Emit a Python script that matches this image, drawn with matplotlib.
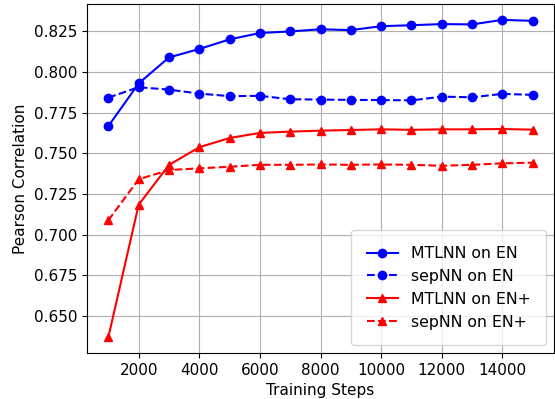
import matplotlib
matplotlib.use("Agg")
import matplotlib.pyplot as plt

steps = [1000, 2000, 3000, 4000, 5000, 6000, 7000, 8000,
         9000, 10000, 11000, 12000, 13000, 14000, 15000]

mtlnn_en = [0.7668, 0.7930, 0.8090, 0.8142, 0.8201, 0.8240, 0.8250, 0.8263,
            0.8258, 0.8282, 0.8288, 0.8295, 0.8293, 0.8321, 0.8315]
sepnn_en = [0.7843, 0.7907, 0.7892, 0.7868, 0.7852, 0.7854, 0.7833, 0.7831,
            0.7829, 0.7828, 0.7826, 0.7849, 0.7845, 0.7866, 0.7860]
mtlnn_enp = [0.6370, 0.7185, 0.7429, 0.7538, 0.7595, 0.7626, 0.7634, 0.7640,
             0.7644, 0.7648, 0.7645, 0.7648, 0.7648, 0.7650, 0.7646]
sepnn_enp = [0.7089, 0.7341, 0.7398, 0.7408, 0.7418, 0.7430, 0.7430, 0.7432,
             0.7430, 0.7432, 0.7430, 0.7424, 0.7430, 0.7439, 0.7443]

plt.rcParams["font.size"] = 11

fig, ax = plt.subplots(figsize=(5.55, 3.99), dpi=100)
ax.plot(steps, mtlnn_en, "b-o", label="MTLNN on EN")
ax.plot(steps, sepnn_en, "b--o", label="sepNN on EN")
ax.plot(steps, mtlnn_enp, "r-^", label="MTLNN on EN+")
ax.plot(steps, sepnn_enp, "r--^", label="sepNN on EN+")

ax.set_xlabel("Training Steps", fontsize=11)
ax.set_ylabel("Pearson Correlation", fontsize=11)
ax.set_xticks(range(2000, 15000, 2000))
ax.grid(True)
ax.legend(loc="lower right", fontsize=11.3, borderpad=1.0)

plt.subplots_adjust(left=0.157, right=0.998, top=0.99, bottom=0.115)
fig.savefig("out.png")
